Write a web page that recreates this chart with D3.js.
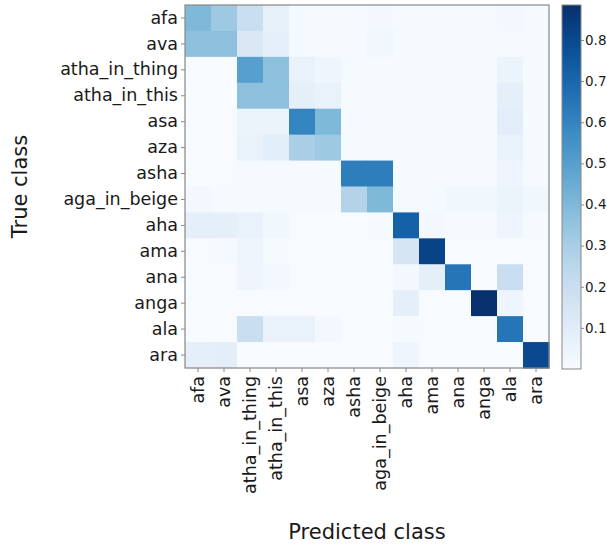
<!DOCTYPE html>
<html>
<head>
<meta charset="utf-8">
<script src="https://cdn.jsdelivr.net/npm/d3@7"></script>
<style>
  body { margin: 0; background: #fff; }
  text { font-family: "DejaVu Sans", sans-serif; fill: #1a1a1a; }
</style>
</head>
<body>
<div id="container"></div>
<script>
// class names (rows = true, columns = predicted)
const classes = ['afa', 'ava', 'atha_in_thing', 'atha_in_this', 'asa', 'aza', 'asha',
  'aga_in_beige', 'aha', 'ama', 'ana', 'anga', 'ala', 'ara'];

// normalised confusion matrix
const matrix = [
  [0.40, 0.33, 0.20, 0.07, 0.01, 0.01, 0.01, 0.02, 0.01, 0.01, 0.01, 0.01, 0.02, 0.01],
  [0.37, 0.37, 0.13, 0.08, 0.01, 0.01, 0.01, 0.03, 0.01, 0.01, 0.01, 0.01, 0.01, 0.01],
  [0.00, 0.00, 0.50, 0.37, 0.06, 0.04, 0.01, 0.01, 0.01, 0.01, 0.01, 0.01, 0.05, 0.01],
  [0.00, 0.00, 0.37, 0.37, 0.08, 0.06, 0.01, 0.01, 0.01, 0.01, 0.01, 0.01, 0.08, 0.01],
  [0.00, 0.00, 0.05, 0.05, 0.60, 0.40, 0.01, 0.01, 0.01, 0.01, 0.01, 0.01, 0.10, 0.01],
  [0.00, 0.00, 0.06, 0.10, 0.30, 0.33, 0.01, 0.01, 0.01, 0.01, 0.01, 0.01, 0.06, 0.01],
  [0.00, 0.00, 0.01, 0.01, 0.01, 0.01, 0.62, 0.62, 0.01, 0.01, 0.01, 0.01, 0.04, 0.01],
  [0.02, 0.01, 0.01, 0.01, 0.01, 0.01, 0.27, 0.40, 0.01, 0.01, 0.03, 0.03, 0.05, 0.03],
  [0.08, 0.08, 0.06, 0.03, 0.00, 0.00, 0.00, 0.01, 0.72, 0.02, 0.01, 0.01, 0.04, 0.01],
  [0.00, 0.01, 0.04, 0.01, 0.00, 0.00, 0.00, 0.00, 0.15, 0.82, 0.00, 0.00, 0.00, 0.00],
  [0.00, 0.00, 0.04, 0.02, 0.00, 0.00, 0.00, 0.00, 0.02, 0.08, 0.65, 0.00, 0.20, 0.00],
  [0.00, 0.00, 0.00, 0.00, 0.00, 0.00, 0.00, 0.00, 0.08, 0.00, 0.00, 0.88, 0.04, 0.00],
  [0.00, 0.00, 0.20, 0.06, 0.06, 0.02, 0.00, 0.00, 0.01, 0.00, 0.00, 0.00, 0.65, 0.00],
  [0.08, 0.09, 0.00, 0.00, 0.00, 0.00, 0.00, 0.00, 0.04, 0.00, 0.00, 0.00, 0.00, 0.80]
];

const colorTicks = [0.1, 0.2, 0.3, 0.4, 0.5, 0.6, 0.7, 0.8];

const W = 607, H = 546;
const plot = { left: 185, top: 5, right: 549, bottom: 368 };
const bar = { left: 562, right: 581, top: 5, bottom: 369 };
const vmin = 0, vmax = 0.885;

const svg = d3.select('#container').append('svg')
  .attr('width', W).attr('height', H);

const x = d3.scaleBand().domain(classes).range([plot.left, plot.right]);
const y = d3.scaleBand().domain(classes).range([plot.top, plot.bottom]);
const color = d3.scaleSequential(d3.interpolateBlues).domain([vmin, vmax]);

const cells = [];
matrix.forEach((row, i) => row.forEach((v, j) => cells.push({ t: classes[i], p: classes[j], v })));

svg.append('g').selectAll('rect').data(cells).enter().append('rect')
  .attr('x', d => x(d.p))
  .attr('y', d => y(d.t))
  .attr('width', x.bandwidth() + 0.5)
  .attr('height', y.bandwidth() + 0.5)
  .attr('fill', d => color(d.v));

svg.append('rect')
  .attr('x', plot.left).attr('y', plot.top)
  .attr('width', plot.right - plot.left).attr('height', plot.bottom - plot.top)
  .attr('fill', 'none').attr('stroke', '#888').attr('stroke-width', 1.2);

// axes
const yAxis = svg.append('g')
  .attr('transform', `translate(${plot.left},0)`)
  .call(d3.axisLeft(y).tickSize(4).tickPadding(3));
const xAxis = svg.append('g')
  .attr('transform', `translate(0,${plot.bottom})`)
  .call(d3.axisBottom(x).tickSize(4).tickPadding(3));

[xAxis, yAxis].forEach(g => {
  g.select('.domain').remove();
  g.selectAll('line').attr('stroke', '#888');
  g.selectAll('text').style('font-size', '17.5px').attr('fill', '#1a1a1a');
});

xAxis.selectAll('text')
  .attr('transform', 'rotate(-90)')
  .attr('text-anchor', 'end')
  .attr('x', -8)
  .attr('y', 0)
  .attr('dy', '0.35em');

svg.append('text')
  .attr('transform', `translate(27,${(plot.top + plot.bottom) / 2}) rotate(-90)`)
  .attr('text-anchor', 'middle')
  .style('font-size', '21px')
  .text('True class');

svg.append('text')
  .attr('x', (plot.left + plot.right) / 2)
  .attr('y', 539)
  .attr('text-anchor', 'middle')
  .style('font-size', '21px')
  .text('Predicted class');

// colorbar
const defs = svg.append('defs');
const grad = defs.append('linearGradient').attr('id', 'cb')
  .attr('x1', 0).attr('y1', 1).attr('x2', 0).attr('y2', 0);
d3.range(0, 1.0001, 0.05).forEach(t => {
  grad.append('stop').attr('offset', t).attr('stop-color', color(vmin + t * (vmax - vmin)));
});

const cy = d3.scaleLinear().domain([vmin, vmax]).range([bar.bottom, bar.top]);
svg.append('rect')
  .attr('x', bar.left).attr('y', bar.top)
  .attr('width', bar.right - bar.left).attr('height', bar.bottom - bar.top)
  .attr('fill', 'url(#cb)').attr('stroke', '#888').attr('stroke-width', 1);

const cAxis = svg.append('g')
  .attr('transform', `translate(${bar.right},0)`)
  .call(d3.axisRight(cy).tickValues(colorTicks).tickFormat(d3.format('.1f')).tickSize(3).tickPadding(1));
cAxis.select('.domain').remove();
cAxis.selectAll('line').attr('stroke', '#888');
cAxis.selectAll('text').style('font-size', '13.5px').attr('fill', '#1a1a1a');
</script>
</body>
</html>
